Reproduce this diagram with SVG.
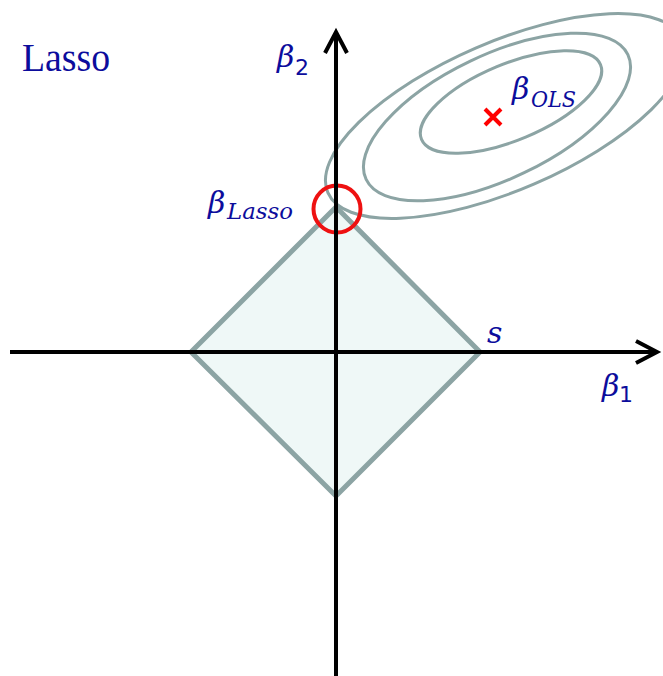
<svg xmlns="http://www.w3.org/2000/svg" width="663" height="676" viewBox="0 0 663 676">
<style>
.ell{fill:none;stroke:#8ca4a4;stroke-width:3}
.ax{fill:none;stroke:#000;stroke-width:4}
.m{font-family:"DejaVu Serif","Liberation Serif",serif;font-style:italic;fill:#0c0c9c}
.d{font-family:"DejaVu Sans","Liberation Sans",sans-serif;fill:#0c0c9c}
</style>
<defs>
<marker id="arr" markerUnits="userSpaceOnUse" markerWidth="40" markerHeight="40" viewBox="-30 -20 40 40" refX="0" refY="0" orient="auto" overflow="visible">
<path d="M-21,-11 L0,0 L-21,11" fill="none" stroke="#000" stroke-width="4" stroke-linejoin="miter"/>
</marker>
</defs>
<rect width="663" height="676" fill="#fff"/>
<g id="diamond">
<polygon points="336,207 480,352 336,496 191,352" fill="#eff8f7" stroke="#8ca4a4" stroke-width="5" stroke-linejoin="miter"/>
</g>
<g id="contours">
<ellipse class="ell" cx="0" cy="0" rx="97" ry="38" transform="translate(511,102) rotate(-22.7)"/>
<ellipse class="ell" cx="0" cy="0" rx="145" ry="62" transform="translate(497,117) rotate(-25.5)"/>
<ellipse class="ell" cx="0" cy="0" rx="193" ry="74" transform="translate(505,116) rotate(-23.4)"/>
</g>
<g id="lasso-point">
<circle cx="337" cy="209" r="23.5" fill="none" stroke="#ee1111" stroke-width="4"/>
</g>
<g id="connectors">
<line class="ax" x1="10" y1="352" x2="657" y2="352" marker-end="url(#arr)"/>
<line class="ax" x1="336" y1="676" x2="336" y2="32" marker-end="url(#arr)"/>
</g>
<g id="ols-point">
<path d="M485,109 L501,125 M501,109 L485,125" stroke="#ff0000" stroke-width="4" fill="none"/>
</g>
<g id="title">
<text x="22" y="71" font-family="Liberation Serif,serif" font-size="40" fill="#0c0c9c" textLength="88" lengthAdjust="spacingAndGlyphs">Lasso</text>
</g>
<g id="label-beta2">
<text class="m" x="277" y="67" font-size="30">β</text>
<text class="d" x="295" y="75" font-size="22">2</text>
</g>
<g id="label-beta1">
<text class="m" x="602" y="396" font-size="30">β</text>
<text class="d" x="619" y="402" font-size="22">1</text>
</g>
<g id="label-ols">
<text class="m" x="512" y="99" font-size="30">β</text>
<text class="m" x="531" y="107" font-size="22" textLength="45" lengthAdjust="spacingAndGlyphs">OLS</text>
</g>
<g id="label-lasso">
<text class="m" x="208" y="213" font-size="30">β</text>
<text class="m" x="227" y="219" font-size="22" textLength="66" lengthAdjust="spacingAndGlyphs">Lasso</text>
</g>
<g id="label-s">
<text class="m" x="487" y="343" font-size="30">s</text>
</g>
</svg>
